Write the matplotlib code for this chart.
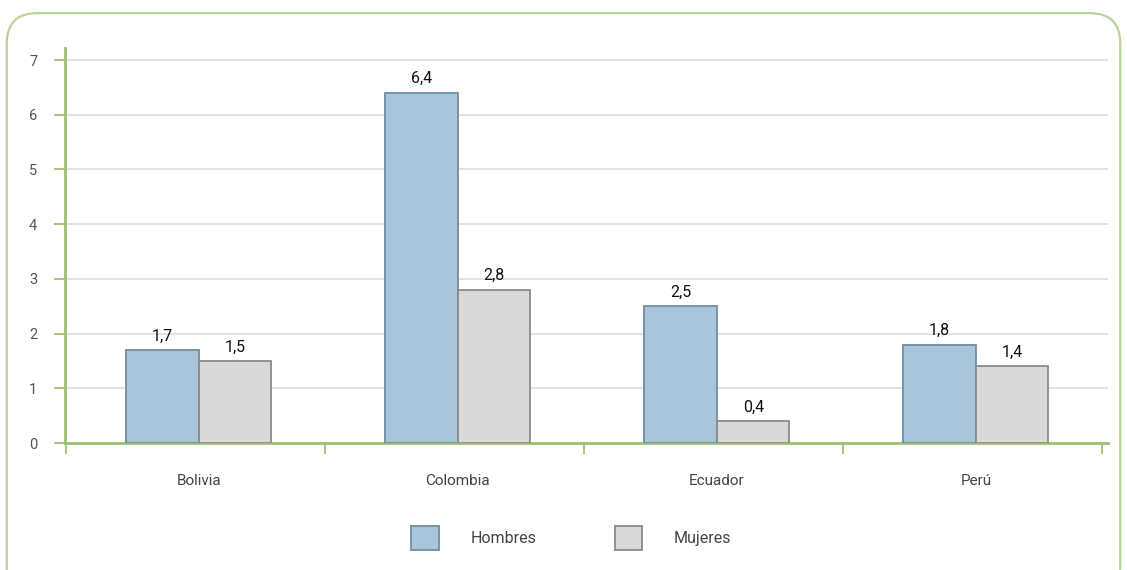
import numpy as np
import matplotlib.pyplot as plt
from matplotlib.patches import FancyBboxPatch

plt.rcParams['font.family'] = ['Roboto', 'DejaVu Sans']

# -------------------------
# Data
# -------------------------

paises = ['Bolivia', 'Colombia', 'Ecuador', 'Perú']
hombres = [1.7, 6.4, 2.5, 1.8]
mujeres = [1.5, 2.8, 0.4, 1.4]
etiq_h = ['1,7', '6,4', '2,5', '1,8']
etiq_m = ['1,5', '2,8', '0,4', '1,4']

verde = '#9cc170'
azul = '#a8c5da'
azul_borde = '#6d8ea8'
gris = '#d9d9d9'
gris_borde = '#8a8a8a'

# -------------------------
# Plot
# -------------------------

fig = plt.figure(figsize=(11.27, 5.7), dpi=100)

borde = FancyBboxPatch(
    (0.006, -0.05), 0.988, 1.027,
    boxstyle='round,pad=0,rounding_size=0.027',
    transform=fig.transFigure,
    facecolor='none',
    edgecolor='#b9d39a',
    linewidth=1.6,
    mutation_aspect=1127/570,
    zorder=-1
)
fig.patches.append(borde)

ax = fig.add_axes([0.0577, 0.2228, 0.925, 0.693])
ax.patch.set_alpha(0)

x = np.arange(len(paises)) + 0.012
w = 0.28

ax.bar(
    x - w/2, hombres, w,
    color=azul, edgecolor=azul_borde, linewidth=1.3,
    label='Hombres', zorder=3
)
ax.bar(
    x + w/2, mujeres, w,
    color=gris, edgecolor=gris_borde, linewidth=1.3,
    label='Mujeres', zorder=3
)

for i in range(len(paises)):
    ax.text(x[i] - w/2, hombres[i] + 0.12, etiq_h[i],
            ha='center', va='bottom', fontsize=11.5, color='#111111', zorder=4)
    ax.text(x[i] + w/2, mujeres[i] + 0.12, etiq_m[i],
            ha='center', va='bottom', fontsize=11.5, color='#111111', zorder=4)

ax.set_xlim(-0.505, 3.52)
ax.set_ylim(0, 7.22)

ax.set_yticks(range(8))
ax.set_yticklabels([str(v) for v in range(8)], color='#555555', fontsize=10.5)
ax.set_xticks([-0.5, 0.5, 1.5, 2.5, 3.5])
ax.set_xticklabels([])
ax.set_xticks(x, minor=True)
ax.set_xticklabels(paises, minor=True, color='#444444', fontsize=11)
ax.tick_params(axis='x', which='minor', length=0, pad=22)
ax.tick_params(axis='x', which='major', length=8, width=1.3, color=verde, direction='out')
ax.tick_params(axis='y', length=8, width=1.3, color=verde, pad=12)

ax.grid(axis='y', color='#dcdcdc', linewidth=1.2, zorder=0)
ax.set_axisbelow(True)

for s in ['top', 'right']:
    ax.spines[s].set_visible(False)
ax.spines['left'].set_color(verde)
ax.spines['left'].set_linewidth(2)
ax.spines['bottom'].set_color(verde)
ax.spines['bottom'].set_linewidth(2)

fig.legend(
    loc='center',
    bbox_to_anchor=(0.507, 0.056),
    ncol=2,
    frameon=False,
    fontsize=11.5,
    handlelength=1.7,
    handleheight=2.0,
    handletextpad=2.0,
    columnspacing=4.9,
    labelcolor='#444444'
)

plt.savefig('out.png', dpi=100)
